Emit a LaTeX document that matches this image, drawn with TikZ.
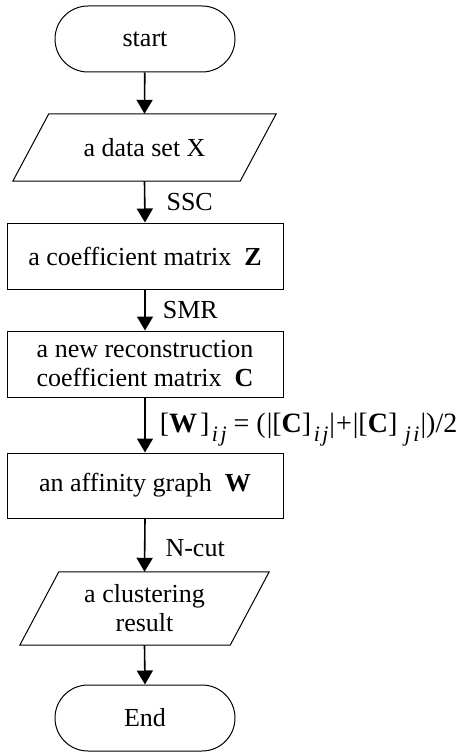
\documentclass[tikz,border=0pt]{standalone}
\usepackage{fontspec}
\setmainfont{Liberation Serif}
\usetikzlibrary{arrows.meta,calc}
\newcommand\subit[2]{\hspace{2.5pt}\raisebox{-0.32em}{\fontsize{22}{22}\selectfont\itshape #1\kern2.5pt #2}}
\begin{document}
\begin{tikzpicture}[x=1pt,y=-1pt,
  every node/.style={font=\fontsize{26}{29}\selectfont, inner sep=0pt, align=center},
  term/.style={draw, line width=1pt, rounded corners=33pt, minimum width=180pt, minimum height=66pt},
  box/.style={draw, line width=1pt, minimum width=276pt},
  ghost/.style={minimum height=67pt},
  para/.style={line width=1pt},
  flow/.style={line width=1.6pt, -{Triangle[length=14pt,width=16pt]}},
  lab/.style={anchor=west}]
\useasboundingbox (0,0) rectangle (467,752);
\node[term] (start) at (145,39) {start};
\node[ghost, minimum width=263pt] (data) at (144.5,147.5) {a data set X};
\draw[para] ($(data.north west)+(36,0)$) -- (data.north east) -- ($(data.south east)+(-36,0)$) -- (data.south west) -- cycle;
\node[box, minimum height=66pt] (coef) at (145,256) {a coefficient matrix \ \textbf{Z}};
\node[box, minimum height=66pt] (recon) at (145,364) {a new reconstruction\\coefficient matrix \ \textbf{C}};
\node[box, minimum height=65pt] (aff) at (145,485.5) {an affinity graph \ \textbf{W}};
\node[ghost, minimum width=249pt, minimum height=73pt] (clus) at (144.5,608.5) {a clustering\\result};
\draw[para] ($(clus.north west)+(39,0)$) -- (clus.north east) -- ($(clus.south east)+(-39,0)$) -- (clus.south west) -- cycle;
\node[term] (end) at (145,718) {End};
\draw[flow] (start) -- (data.north);
\draw[flow] (data.south) -- node[lab, xshift=21pt] (l1) {SSC} (coef.north);
\draw[flow] (coef.south) -- node[lab, xshift=17pt] (l2) {SMR} (recon.north);
\draw[flow] (recon.south) -- node[lab, xshift=14pt, yshift=-5pt] (l3) {\fontsize{28}{29}\selectfont[\textbf{W}\hspace{3pt}]\subit{i}{j}\hspace{7pt}=\hspace{7pt}(\kern1pt|[\textbf{C}]\subit{i}{j}\kern1pt|\kern1pt+\kern1pt|[\textbf{C}]\hspace{5pt}\subit{j}{i}\kern1pt|)/2} (aff.north);
\draw[flow] (aff.south) -- node[lab, xshift=20pt, yshift=-3pt] (l4) {N-cut} (clus.north);
\draw[flow] (clus.south) -- (end.north);
\end{tikzpicture}
\end{document}
